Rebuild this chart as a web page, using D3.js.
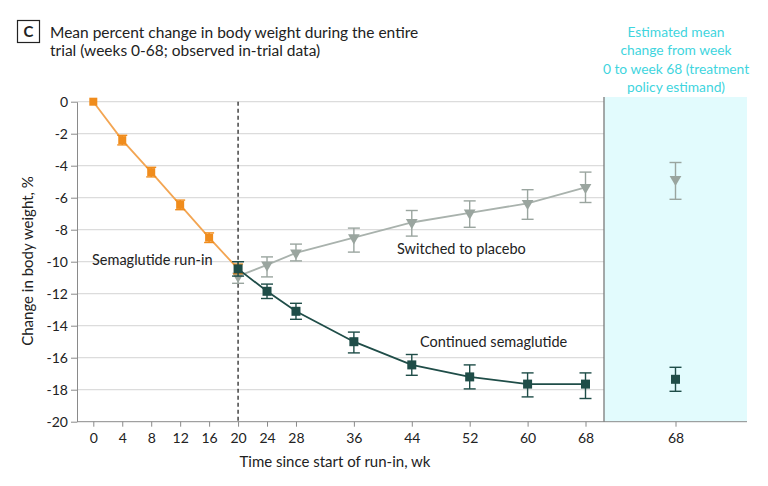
<!DOCTYPE html>
<html>
<head>
<meta charset="utf-8">
<script src="https://cdn.jsdelivr.net/npm/d3@7"></script>
<style>
  body { margin: 0; background: #fff; }
  svg { display: block; font-family: Lato, "Noto Sans", sans-serif; }
</style>
</head>
<body>
<div id="chart"></div>
<script>
// Mean percent change in body weight (%)
var xTicks = [0, 4, 8, 12, 16, 20, 24, 28, 36, 44, 52, 60, 68];
var yTicks = [0, -2, -4, -6, -8, -10, -12, -14, -16, -18, -20];

var runInWeeks = [0, 4, 8, 12, 16, 20];
var runInMean = [0, -2.4, -4.4, -6.45, -8.5, -10.45];
var runInLo = [0, -2.7, -4.7, -6.75, -8.8, -10.75];
var runInHi = [0, -2.1, -4.1, -6.15, -8.2, -10.15];

var contWeeks = [20, 24, 28, 36, 44, 52, 60, 68];
var contMean = [-10.45, -11.85, -13.1, -15.0, -16.45, -17.2, -17.65, -17.65];
var contLo = [-10.9, -12.3, -13.6, -15.7, -17.1, -17.95, -18.45, -18.55];
var contHi = [-10.0, -11.4, -12.6, -14.4, -15.8, -16.45, -16.95, -16.95];

var placWeeks = [20, 24, 28, 36, 44, 52, 60, 68];
var placMean = [-10.9, -10.2, -9.45, -8.5, -7.55, -6.95, -6.35, -5.35];
var placLo = [-11.35, -10.95, -9.95, -9.4, -8.4, -7.85, -7.35, -6.3];
var placHi = [-10.0, -9.7, -8.9, -7.9, -6.8, -6.2, -5.5, -4.4];

// treatment policy estimand at week 68
var estGroups = ["Switched to placebo", "Continued semaglutide"];
var estMean = [-4.85, -17.35];
var estLo = [-6.1, -18.1];
var estHi = [-3.8, -16.6];

var orange = "#f08c1c", orangeLine = "#f3a552";
var teal = "#1f4d48";
var grey = "#9aa59f", greyLine = "#a9b2ad";
var cyan = "#3fd5de";

var W = 768, H = 486;
var svg = d3.select("#chart").append("svg")
  .attr("width", W).attr("height", H);

var x = d3.scaleLinear().domain([0, 68]).range([93.3, 585.5]);
var y = d3.scaleLinear().domain([0, -20]).range([101.7, 421.7]);
var axisLeftX = 77, sepX = 604, rightEnd = 747;
var xEst = d3.scalePoint().domain(["68"]).range([sepX, rightEnd]).padding(0.5);

// estimand panel background
svg.append("rect")
  .attr("x", sepX).attr("y", 97)
  .attr("width", rightEnd - sepX).attr("height", y(-20) - 97)
  .attr("fill", "#e2fbfd");

// gridlines
svg.append("g").selectAll("line")
  .data(yTicks.filter(d => d > -20))
  .join("line")
    .attr("x1", axisLeftX).attr("x2", sepX)
    .attr("y1", d => y(d)).attr("y2", d => y(d))
    .attr("stroke", "#dcdcdc").attr("stroke-width", 1.2);

// y axis (plain hyphen for negatives, as in the original)
var yAxis = svg.append("g")
  .attr("transform", "translate(" + axisLeftX + ",0)")
  .call(d3.axisLeft(y).tickValues(yTicks).tickFormat(d => String(d))
    .tickSize(6).tickPadding(3).tickSizeOuter(0));
yAxis.select(".domain").attr("stroke", "#8a8a8a");
yAxis.selectAll(".tick line").attr("stroke", "#8a8a8a");
yAxis.selectAll(".tick text")
  .attr("font-size", 14).attr("fill", "#222").attr("font-family", "Lato, sans-serif");

// x axis
var xAxisG = svg.append("g").attr("transform", "translate(0," + y(-20) + ")");
xAxisG.append("line")
  .attr("x1", axisLeftX).attr("x2", rightEnd)
  .attr("stroke", "#8a8a8a");
var xa = xAxisG.append("g")
  .call(d3.axisBottom(x).tickValues(xTicks).tickSize(5).tickPadding(6));
xa.select(".domain").remove();
var xb = xAxisG.append("g")
  .call(d3.axisBottom(xEst).tickSize(5).tickPadding(6));
xb.select(".domain").remove();
xAxisG.selectAll(".tick line").attr("stroke", "#8a8a8a");
xAxisG.selectAll(".tick text")
  .attr("font-size", 14).attr("fill", "#222").attr("font-family", "Lato, sans-serif");

// separator between trial and estimand panel
svg.append("line")
  .attr("x1", sepX).attr("x2", sepX)
  .attr("y1", 97).attr("y2", y(-20))
  .attr("stroke", "#7a7a7a").attr("stroke-width", 1.3);

// randomisation line at week 20
svg.append("line")
  .attr("x1", x(20)).attr("x2", x(20))
  .attr("y1", y(0)).attr("y2", y(-20))
  .attr("stroke", "#000").attr("stroke-width", 1.1)
  .attr("stroke-dasharray", "4,3");

// helper to draw a series with error bars
function drawSeries(wk, mean, lo, hi, lineCol, markCol, shape, cap, xs, msize) {
  var pts = wk.map((w, i) => ({ w: w, m: mean[i], lo: lo[i], hi: hi[i] }));
  var g = svg.append("g");
  if (lineCol) {
    g.append("path")
      .datum(pts)
      .attr("fill", "none")
      .attr("stroke", lineCol)
      .attr("stroke-width", 1.8)
      .attr("d", d3.line().x(d => xs(d.w)).y(d => y(d.m)));
  }
  var eb = g.selectAll(".eb").data(pts.filter(d => d.hi !== d.lo)).join("g");
  eb.append("line")
    .attr("x1", d => xs(d.w)).attr("x2", d => xs(d.w))
    .attr("y1", d => y(d.lo)).attr("y2", d => y(d.hi))
    .attr("stroke", markCol).attr("stroke-width", 1.4);
  eb.append("line")
    .attr("x1", d => xs(d.w) - cap).attr("x2", d => xs(d.w) + cap)
    .attr("y1", d => y(d.lo)).attr("y2", d => y(d.lo))
    .attr("stroke", markCol).attr("stroke-width", 1.4);
  eb.append("line")
    .attr("x1", d => xs(d.w) - cap).attr("x2", d => xs(d.w) + cap)
    .attr("y1", d => y(d.hi)).attr("y2", d => y(d.hi))
    .attr("stroke", markCol).attr("stroke-width", 1.4);
  if (shape === "square") {
    var s = msize || 9;
    g.selectAll(".mk").data(pts).join("rect")
      .attr("x", d => xs(d.w) - s / 2).attr("y", d => y(d.m) - s / 2)
      .attr("width", s).attr("height", s)
      .attr("fill", markCol);
  } else {
    var tri = d3.symbol().type(d3.symbolTriangle).size(60);
    g.selectAll(".mk").data(pts).join("path")
      .attr("d", tri)
      .attr("transform", d => "translate(" + xs(d.w) + "," + y(d.m) + ") rotate(180)")
      .attr("fill", markCol);
  }
}

drawSeries(placWeeks, placMean, placLo, placHi, greyLine, grey, "triangle", 6, x);
drawSeries(runInWeeks, runInMean, runInLo, runInHi, orangeLine, orange, "square", 5, x, 8);
drawSeries(contWeeks, contMean, contLo, contHi, teal, teal, "square", 6, x);

// estimand points
var estX = d => xEst("68");
drawSeries([68], [estMean[0]], [estLo[0]], [estHi[0]], null, grey, "triangle", 6, estX);
drawSeries([68], [estMean[1]], [estLo[1]], [estHi[1]], null, teal, "square", 6, estX);

// series labels
var lab = svg.append("g").attr("font-size", 14.5).attr("fill", "#222");
lab.append("text").attr("x", 92).attr("y", 265).text("Semaglutide run-in");
lab.append("text").attr("x", 397).attr("y", 254).text("Switched to placebo");
lab.append("text").attr("x", 420).attr("y", 347).text("Continued semaglutide");

// axis titles
svg.append("text")
  .attr("transform", "translate(33,261) rotate(-90)")
  .attr("text-anchor", "middle")
  .attr("font-size", 15).attr("fill", "#222")
  .text("Change in body weight, %");
svg.append("text")
  .attr("x", 335).attr("y", 467)
  .attr("text-anchor", "middle")
  .attr("font-size", 15).attr("fill", "#222")
  .text("Time since start of run-in, wk");

// panel label and title
svg.append("rect")
  .attr("x", 17.5).attr("y", 20.5).attr("width", 22).attr("height", 22)
  .attr("fill", "none").attr("stroke", "#222").attr("stroke-width", 1.2);
svg.append("text")
  .attr("x", 28.5).attr("y", 37)
  .attr("text-anchor", "middle")
  .attr("font-size", 15).attr("font-weight", "bold").attr("fill", "#222")
  .text("C");
var title = svg.append("text").attr("font-size", 15.5).attr("fill", "#222");
title.append("tspan").attr("x", 50).attr("y", 38)
  .text("Mean percent change in body weight during the entire");
title.append("tspan").attr("x", 50).attr("y", 56)
  .text("trial (weeks 0-68; observed in-trial data)");

// estimand note
var note = svg.append("text")
  .attr("text-anchor", "middle")
  .attr("font-size", 13.8).attr("fill", cyan);
["Estimated mean", "change from week", "0 to week 68 (treatment", "policy estimand)"]
  .forEach((t, i) => {
    note.append("tspan").attr("x", 676).attr("y", 37 + i * 18.3).text(t);
  });
</script>
</body>
</html>
